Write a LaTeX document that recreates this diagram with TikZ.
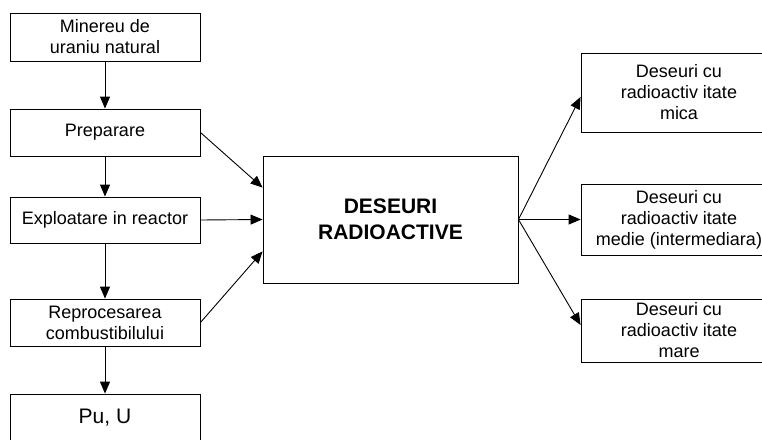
\documentclass[tikz,border=0pt]{standalone}
\usepackage{fontspec}
\setmainfont{Liberation Sans}
\usetikzlibrary{arrows.meta}
\begin{document}
\begin{tikzpicture}[x=1pt, y=-1pt,
  box/.style={draw, line width=0.9pt, inner sep=0pt, align=center,
    font=\fontsize{18}{21}\selectfont},
  flow/.style={-{Triangle[length=12pt,width=10pt]}, line width=0.9pt}]
\clip (0,0) rectangle (762,439);
\fill[white] (0,0) rectangle (762,439);
% left column
\node[box, minimum width=190pt, minimum height=48pt] (ore) at (105,37) {Minereu de\\uraniu natural};
\node[box, minimum width=190pt, minimum height=47pt] (prep) at (105,132.5) {Preparare};
\node[box, minimum width=190pt, minimum height=46pt] (react) at (105,220) {Exploatare in reactor};
\node[box, minimum width=190pt, minimum height=47pt] (repro) at (105,322.5) {Reprocesarea\\combustibilului};
\node[box, minimum width=190pt, minimum height=47pt, font=\fontsize{21}{24}\selectfont] (puu) at (105,417.5) {Pu, U};
% central box
\node[box, minimum width=255pt, minimum height=127pt, font=\fontsize{21}{26}\selectfont\bfseries] (waste) at (390.5,219.5) {DESEURI\\RADIOACTIVE};
% right column
\node[box, minimum width=196pt, minimum height=79pt] (low) at (679,92.5) {Deseuri cu\\radioactiv itate\\mica};
\node[box, minimum width=196pt, minimum height=71pt] (mid) at (679,219.5) {Deseuri cu\\radioactiv itate\\medie (intermediara)};
\node[box, minimum width=196pt, minimum height=63pt] (high) at (679,330.5) {Deseuri cu\\radioactiv itate\\mare};
\draw[flow] (ore) -- (prep);
\draw[flow] (prep) -- (react);
\draw[flow] (react) -- (repro);
\draw[flow] (repro) -- (puu);
\draw[flow] (prep.east) -- (waste.166);
\draw[flow] (react.east) -- (waste.west);
\draw[flow] (repro.east) -- (waste.194);
\draw[flow] (waste.east) -- ([yshift=-4.5pt]low.west);
\draw[flow] (waste.east) -- (mid.west);
\draw[flow] (waste.east) -- ([yshift=5.5pt]high.west);
\end{tikzpicture}
\end{document}
